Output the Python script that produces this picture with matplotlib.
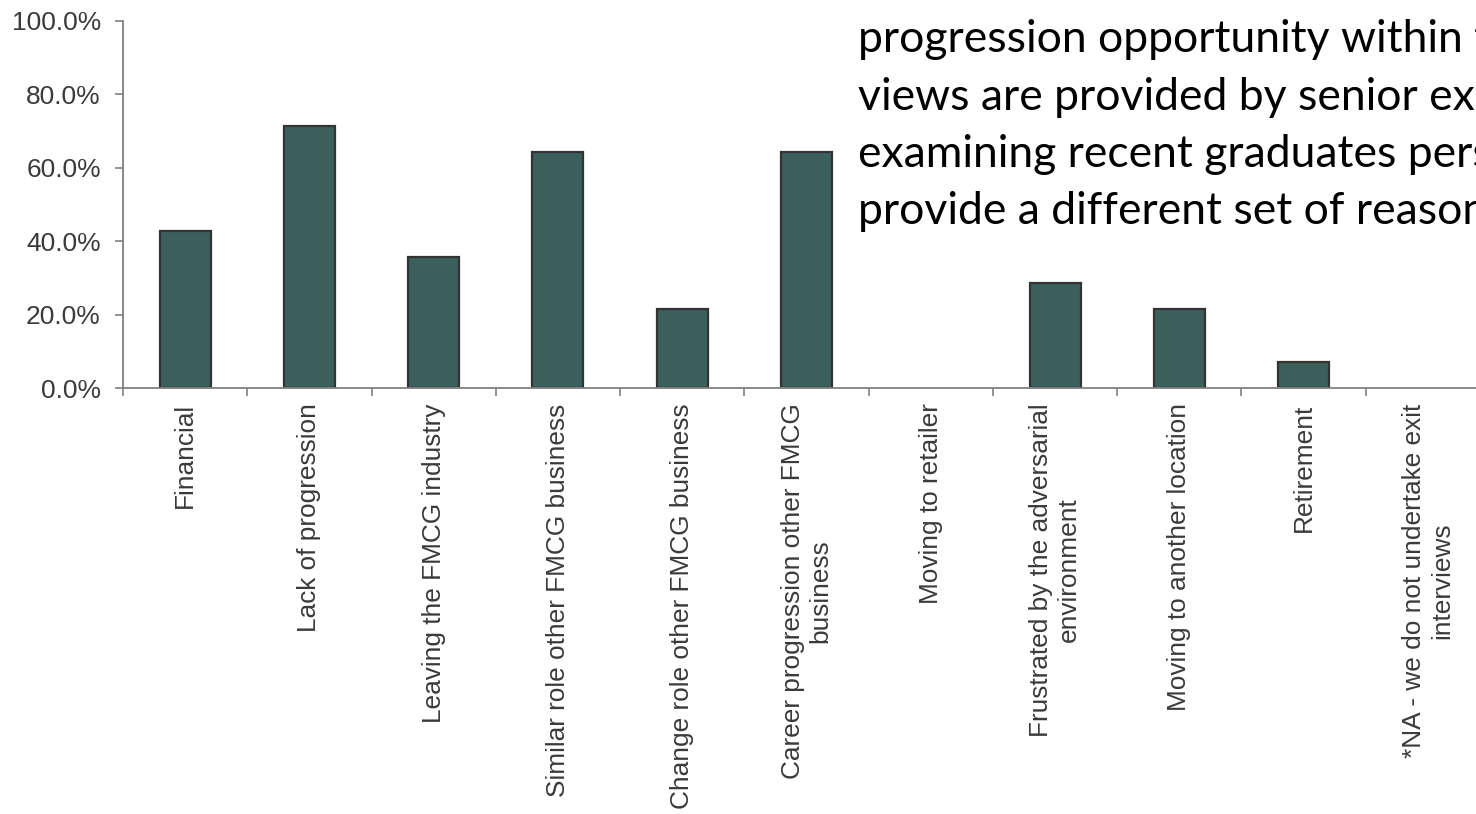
import numpy as np
import matplotlib
matplotlib.use('Agg')
from matplotlib import pyplot as plt
from matplotlib.ticker import PercentFormatter

reasons = ['Financial',
           'Lack of progression',
           'Leaving the FMCG industry',
           'Similar role other FMCG business',
           'Change role other FMCG business',
           'Career progression other FMCG\nbusiness',
           'Moving to retailer',
           'Frustrated by the adversarial\nenvironment',
           'Moving to another location',
           'Retirement',
           '*NA - we do not undertake exit\ninterviews']
share = [42.9, 71.4, 35.7, 64.3, 21.4, 64.3, 0.0, 28.6, 21.4, 7.1, 0.0]

note_lines = ['progression opportunity within the',
              'views are provided by senior executives',
              'examining recent graduates perspectives',
              'provide a different set of reasons']

bar_color = '#3b5f5b'
edge_color = '#333333'
axis_color = '#808080'
label_color = '#3a3a3a'

plt.rcParams['font.family'] = ['Liberation Sans', 'DejaVu Sans']

fig = plt.figure(figsize=(14.76, 8.14), dpi=100)
# plot area runs a little past the right edge of the figure
ax = fig.add_axes([123 / 1476, 1 - 388 / 814, 1367 / 1476, 367 / 814])

x = np.arange(len(reasons)) + 0.5
edges = [edge_color if v > 0 else 'none' for v in share]
ax.bar(x, share, width=0.41, color=bar_color, edgecolor=edges,
       linewidth=1.6, zorder=2)

ax.set_xlim(0, len(reasons))
ax.set_ylim(0, 100)
ax.yaxis.set_major_formatter(PercentFormatter(decimals=1))
ax.set_yticks(np.arange(0, 101, 20))

# ticks sit between categories, labels sit under the bars
ax.set_xticks(np.arange(len(reasons) + 1))
ax.set_xticklabels([])
ax.set_xticks(x, minor=True)
ax.set_xticklabels(reasons, minor=True, rotation=90, ha='center', va='top',
                   multialignment='center', fontsize=18.9, color=label_color)
ax.tick_params(axis='x', which='minor', length=0, pad=11)
ax.tick_params(axis='x', which='major', length=6, width=1.2, color=axis_color,
               direction='out')
ax.tick_params(axis='y', length=6, width=1.2, color=axis_color, pad=10,
               labelsize=19, labelcolor=label_color)

for side in ['top', 'right']:
    ax.spines[side].set_visible(False)
for side in ['left', 'bottom']:
    ax.spines[side].set_color(axis_color)
    ax.spines[side].set_linewidth(1.3)

# slide text box over the top right of the chart
for i, line in enumerate(note_lines):
    fig.text(858 / 1476, 1 - (40 + 57.3 * i) / 814, line, fontsize=32,
             family=['Lato', 'DejaVu Sans'], color='black', va='center',
             ha='left')

fig.savefig('out.png', dpi=100)
